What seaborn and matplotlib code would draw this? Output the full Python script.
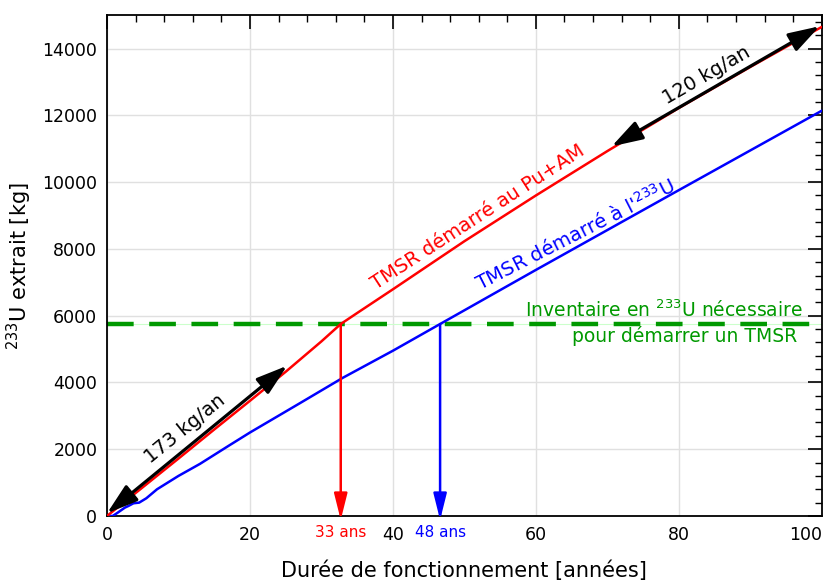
import numpy as np
import pandas as pd
import matplotlib
matplotlib.use("Agg")
import matplotlib.pyplot as plt
import seaborn as sns
from matplotlib.ticker import MultipleLocator
from matplotlib.transforms import blended_transform_factory

# ---------------- data ----------------
red_years = [0, 5, 10, 15, 20, 25, 30, 32.7, 35, 40, 50, 60, 70, 80, 90, 100]
red_kg = [0, 860, 1720, 2590, 3450, 4320, 5230, 5750, 6080, 6790, 8230, 9600, 10930, 12220, 13450, 14650]

blue_years = [0, 0.8, 1.5, 2.5, 3.0, 3.7, 4.5, 5.5, 7, 10, 13, 17, 20, 27, 33, 40, 46.6, 60, 80, 100]
blue_kg = [0, 0, 100, 250, 300, 380, 400, 530, 800, 1200, 1560, 2100, 2500, 3380, 4140, 4950, 5750, 7370, 9760, 12140]

threshold_kg = 5750
cross_years = [32.7, 46.6]
cross_labels = ["33 ans", "48 ans"]
cross_colors = ["#ff0000", "#0000ff"]

rate1_start = [0.0, 80]
rate1_end = [25.2, 4500]
rate1_label = "173 kg/an"
rate2_start = [70.6, 11070]
rate2_end = [99.7, 14670]
rate2_label = "120 kg/an"

x_ticks = [0, 20, 40, 60, 80, 100]
y_ticks = [0, 2000, 4000, 6000, 8000, 10000, 12000, 14000]

# ---------------- style ----------------
sns.set_theme(style="white")
plt.rcParams["font.family"] = ["DejaVu Sans"]
plt.rcParams["mathtext.fontset"] = "dejavusans"
plt.rcParams["text.color"] = "black"
plt.rcParams["axes.labelcolor"] = "black"

fig = plt.figure(figsize=(8.36, 5.85), dpi=100)
ax = fig.add_axes([0.128, 0.118, 0.855, 0.856])

df_red = pd.DataFrame({"annee": red_years, "kg": red_kg})
df_blue = pd.DataFrame({"annee": blue_years, "kg": blue_kg})

ax.grid(True, color="#e0e0e0", lw=1.0, zorder=0)
ax.set_axisbelow(True)

# threshold line
ax.axhline(threshold_kg, color="#ccffcc", lw=0.8, zorder=1)
ax.axhline(threshold_kg, color="#009900", lw=3.2, dashes=(6, 3.5), zorder=2)

sns.lineplot(data=df_blue, x="annee", y="kg", color="#0000ff", lw=1.8, ax=ax,
             estimator=None, sort=False, zorder=3)
sns.lineplot(data=df_red, x="annee", y="kg", color="#ff0000", lw=1.8, ax=ax,
             estimator=None, sort=False, zorder=3)

# vertical arrows down to the time axis
trans = blended_transform_factory(ax.transData, ax.transAxes)
for yr, lab, col in zip(cross_years, cross_labels, cross_colors):
    ax.annotate("", xy=(yr, -120), xytext=(yr, threshold_kg),
                arrowprops=dict(arrowstyle="-|>,head_length=1.6,head_width=0.4",
                                color=col, lw=1.8, mutation_scale=10,
                                shrinkA=0, shrinkB=0),
                annotation_clip=False, zorder=4)
    ax.text(yr, -0.034, lab, transform=trans, color=col, fontsize=11,
            ha="center", va="center")

# black rate arrows
for s, e in [(rate1_start, rate1_end), (rate2_start, rate2_end)]:
    ax.annotate("", xy=tuple(e), xytext=tuple(s),
                arrowprops=dict(arrowstyle="<|-|>,head_length=0.95,head_width=0.3",
                                color="black", lw=2.3, mutation_scale=20,
                                shrinkA=0, shrinkB=0),
                annotation_clip=False, zorder=5)

ax.text(10.9, 2620, rate1_label, rotation=39, fontsize=14, ha="center", va="center",
        rotation_mode="anchor")
ax.text(83.9, 13200, rate2_label, rotation=30, fontsize=14, ha="center", va="center",
        rotation_mode="anchor")

ax.text(51.9, 8950, "TMSR démarré au Pu+AM", rotation=33, fontsize=14, color="#ff0000",
        ha="center", va="center", rotation_mode="anchor")
ax.text(65.5, 8420, r"TMSR démarré à l'$^{233}$U", rotation=27, fontsize=14, color="#0000ff",
        ha="center", va="center", rotation_mode="anchor")

ax.text(97.3, 6170, r"Inventaire en $^{233}$U nécessaire", fontsize=13.5, color="#009900",
        ha="right", va="center")
ax.text(96.5, 5380, "pour démarrer un TMSR", fontsize=13.5, color="#009900",
        ha="right", va="center")

# axes
ax.set_xlim(0, 100)
ax.set_ylim(0, 15000)
ax.set_xticks(x_ticks)
ax.set_yticks(y_ticks)
ax.xaxis.set_minor_locator(MultipleLocator(4))
ax.yaxis.set_minor_locator(MultipleLocator(400))
ax.tick_params(which="both", direction="in", top=True, right=True, colors="black",
               labelsize=12.5)
ax.tick_params(which="major", length=10, width=1.2, pad=7)
ax.tick_params(which="minor", length=5, width=1.0)
for sp in ax.spines.values():
    sp.set_color("black")
    sp.set_linewidth(1.3)
ax.get_xticklabels()[-1].set_horizontalalignment("right")

ax.set_xlabel("Durée de fonctionnement [années]", fontsize=15, labelpad=12)
ax.set_ylabel(r"$^{233}$U extrait [kg]", fontsize=15, labelpad=6)

fig.savefig("out.png", dpi=100)
